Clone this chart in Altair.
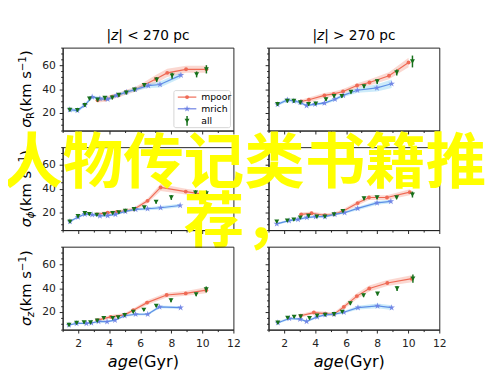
import altair as alt
import pandas as pd

# ---------------- data ----------------
# sigma_R, |z| < 270 pc
R_low_all_age = [1.46, 1.95, 2.43, 2.73, 3.25, 3.72, 4.2, 4.62, 5.1, 5.63, 6.26, 7.06, 8.05, 9.63, 10.26]
R_low_all_val = [22.5, 22.3, 26.5, 32.0, 31.0, 32.5, 32.8, 35.0, 37.0, 39.5, 43.4, 48.0, 51.3, 52.4, 56.7]
R_low_all_err = [1.2, 1.2, 1.5, 1.5, 1.5, 1.5, 1.5, 1.5, 1.5, 1.5, 1.5, 2.0, 2.5, 2.5, 3.5]
R_low_poor_age = [3.25, 3.74, 4.2, 4.62, 5.1, 5.63, 6.26, 7.0, 7.74, 8.95, 10.26]
R_low_poor_val = [30.6, 31.4, 33.6, 35.0, 37.4, 39.6, 43.4, 48.5, 53.7, 56.7, 56.7]
R_low_poor_err = [2.0, 2.0, 2.0, 2.0, 2.0, 2.0, 2.5, 3.5, 3.5, 3.0, 3.0]
R_low_rich_age = [1.46, 1.95, 2.43, 2.9, 3.4, 3.9, 4.47, 5.1, 5.67, 6.52, 7.27, 8.62]
R_low_rich_val = [22.7, 21.9, 26.5, 33.3, 32.0, 31.4, 34.7, 37.4, 39.6, 42.9, 43.9, 51.8]
R_low_rich_err = [1.5, 1.5, 1.5, 1.5, 1.5, 1.5, 1.5, 1.5, 1.5, 2.0, 2.5, 2.5]

# sigma_R, |z| > 270 pc
R_high_all_age = [1.58, 2.21, 2.63, 3.05, 3.58, 4.04, 4.7, 5.22, 5.72, 6.31, 7.15, 8.0, 9.26, 10.27]
R_high_all_val = [27.3, 30.0, 30.0, 28.7, 27.3, 27.8, 31.4, 34.1, 34.1, 37.6, 42.3, 46.4, 54.0, 63.3]
R_high_all_err = [1.5, 1.5, 1.5, 1.5, 1.2, 1.2, 1.5, 1.5, 1.5, 1.5, 1.5, 2.0, 2.5, 5.0]
R_high_poor_age = [3.1, 3.6, 4.6, 5.2, 5.8, 6.7, 7.5, 8.76, 10.02]
R_high_poor_val = [29.5, 31.0, 34.7, 36.0, 38.0, 43.0, 45.6, 51.3, 62.4]
R_high_poor_err = [1.5, 2.0, 2.0, 2.0, 2.0, 2.0, 2.5, 3.0, 4.0]
R_high_rich_age = [1.58, 2.21, 2.63, 3.05, 3.45, 4.0, 4.6, 5.28, 5.81, 6.72, 7.98, 8.93]
R_high_rich_val = [27.0, 30.9, 30.0, 28.7, 26.0, 27.3, 28.2, 31.4, 34.7, 39.0, 41.0, 44.5]
R_high_rich_err = [1.2, 1.5, 1.5, 1.2, 1.2, 1.2, 1.2, 1.5, 1.5, 2.0, 3.0, 3.5]

# sigma_phi, |z| < 270 pc
phi_low_all_age = [1.47, 1.99, 2.43, 2.72, 3.2, 3.69, 4.22, 4.62, 5.04, 5.6, 6.26, 7.02, 8.0, 9.56, 10.26]
phi_low_all_val = [12.2, 16.7, 19.2, 18.5, 17.8, 18.3, 19.4, 20.0, 21.3, 22.6, 24.2, 28.8, 32.5, 36.7, 36.0]
phi_low_all_err = [1.0, 1.0, 1.0, 1.0, 1.0, 1.0, 1.0, 1.0, 1.0, 1.0, 1.0, 1.5, 2.0, 2.0, 2.5]
phi_low_poor_age = [3.2, 3.9, 4.5, 5.04, 5.6, 6.47, 7.31, 8.93, 10.26]
phi_low_poor_val = [18.3, 19.7, 20.3, 21.3, 22.6, 29.7, 41.0, 37.5, 35.0]
phi_low_poor_err = [1.5, 1.5, 1.5, 1.5, 1.5, 2.0, 3.0, 2.5, 2.5]
phi_low_rich_age = [1.47, 1.99, 2.43, 2.9, 3.4, 3.9, 4.4, 5.04, 5.7, 6.47, 7.31, 8.57]
phi_low_rich_val = [12.2, 16.0, 18.5, 18.0, 17.0, 17.2, 18.3, 20.8, 22.5, 23.0, 23.9, 25.8]
phi_low_rich_err = [1.0, 1.0, 1.0, 1.0, 1.0, 1.0, 1.0, 1.0, 1.0, 1.2, 1.5, 1.5]

# sigma_phi, |z| > 270 pc
phi_high_all_age = [1.53, 2.21, 2.63, 3.05, 3.58, 4.11, 4.63, 5.22, 5.79, 7.15, 7.99, 9.25, 10.27]
phi_high_all_val = [12.2, 13.0, 13.8, 15.6, 16.9, 16.4, 16.4, 18.3, 21.0, 31.7, 32.5, 32.5, 35.0]
phi_high_all_err = [1.0, 1.0, 1.0, 1.0, 1.0, 1.0, 1.0, 1.0, 1.0, 1.5, 1.5, 1.5, 2.5]
phi_high_poor_age = [3.1, 3.77, 4.63, 5.22, 5.79, 6.74, 7.47, 8.63, 10.1]
phi_high_poor_val = [18.3, 19.2, 17.5, 18.3, 21.0, 27.8, 32.5, 32.5, 37.0]
phi_high_poor_err = [1.5, 1.5, 1.5, 1.5, 1.5, 2.0, 2.0, 2.0, 2.5]
phi_high_rich_age = [1.53, 2.32, 2.9, 3.47, 4.04, 4.63, 5.26, 5.9, 6.74, 7.99, 8.88]
phi_high_rich_val = [10.3, 13.0, 14.0, 15.6, 16.4, 16.4, 18.3, 19.7, 23.3, 28.0, 29.2]
phi_high_rich_err = [1.0, 1.0, 1.0, 1.0, 1.0, 1.0, 1.0, 1.0, 1.5, 1.5, 1.5]

# sigma_z, |z| < 270 pc
z_low_all_age = [1.41, 1.9, 2.38, 2.8, 3.23, 3.65, 4.22, 4.58, 5.0, 5.55, 6.23, 7.03, 7.98, 9.6, 10.25]
z_low_all_val = [8.9, 10.6, 11.1, 11.0, 12.5, 14.7, 14.7, 15.3, 17.2, 20.0, 21.7, 25.0, 29.7, 34.7, 38.9]
z_low_all_err = [0.8, 0.8, 0.8, 0.8, 0.8, 0.8, 0.8, 0.8, 0.8, 1.0, 1.0, 1.2, 1.5, 1.5, 2.5]
z_low_poor_age = [3.23, 4.1, 5.0, 5.55, 6.44, 7.7, 8.93, 10.25]
z_low_poor_val = [13.0, 15.8, 17.5, 21.4, 27.8, 34.2, 35.6, 38.3]
z_low_poor_err = [1.5, 1.5, 1.5, 1.5, 2.0, 2.0, 2.0, 2.5]
z_low_rich_age = [1.41, 1.9, 2.53, 2.85, 3.31, 3.86, 4.37, 5.0, 5.7, 6.48, 7.24, 8.6]
z_low_rich_val = [8.9, 10.3, 10.3, 10.6, 11.9, 11.7, 13.0, 16.7, 18.0, 18.0, 24.2, 23.6]
z_low_rich_err = [0.8, 0.8, 0.8, 0.8, 0.8, 0.8, 0.8, 1.0, 1.0, 1.0, 1.2, 1.2]

# sigma_z, |z| > 270 pc
z_high_all_age = [1.6, 2.23, 2.65, 3.07, 3.64, 4.13, 4.65, 5.22, 5.75, 6.27, 7.12, 8.02, 9.28, 10.3]
z_high_all_val = [10.8, 15.0, 15.8, 16.1, 14.7, 16.7, 17.5, 18.0, 20.0, 27.2, 33.9, 35.3, 39.7, 48.0]
z_high_all_err = [1.0, 1.0, 1.0, 1.0, 1.0, 1.0, 1.0, 1.0, 1.0, 1.5, 1.5, 1.5, 2.0, 3.5]
z_high_poor_age = [3.07, 3.92, 4.65, 5.22, 5.85, 6.69, 7.49, 8.65, 10.23]
z_high_poor_val = [16.7, 19.4, 18.5, 18.0, 24.2, 33.3, 39.7, 44.4, 48.0]
z_high_poor_err = [1.5, 1.5, 1.5, 1.5, 2.0, 2.5, 2.5, 2.5, 3.0]
z_high_rich_age = [1.6, 2.34, 3.03, 3.45, 4.13, 4.65, 5.22, 5.85, 6.76, 8.02, 8.93]
z_high_rich_val = [10.8, 14.4, 13.9, 11.9, 15.8, 17.5, 18.0, 19.7, 23.6, 25.0, 23.6]
z_high_rich_err = [1.0, 1.0, 1.0, 1.0, 1.0, 1.0, 1.0, 1.0, 1.5, 2.0, 2.0]

PANEL_KEYS = ["R_low", "R_high", "phi_low", "phi_high", "z_low", "z_high"]
SERIES = ["all", "poor", "rich"]
LEGEND_LABELS = ["mpoor", "mrich", "all"]
COL_TITLES = ["|z| < 270 pc", "|z| > 270 pc"]
ROW_SUBS = ["R", "ϕ", "z"]
X_TITLE = ["age", "(Gyr)"]
OVERLAY = ["人物传记类书籍推", "荐，"]
X_TICKS = list(range(1, 13))
Y_TICKS = list(range(5, 80, 5))

# ---------------- build table ----------------
rows = []
g = globals()
for key in PANEL_KEYS:
    for s in SERIES:
        for a, v, e in zip(g[f"{key}_{s}_age"], g[f"{key}_{s}_val"], g[f"{key}_{s}_err"]):
            rows.append({"panel": key, "series": s, "age": a, "val": v, "lo": v - e, "hi": v + e})
df = pd.DataFrame(rows)
dummy = pd.DataFrame({"d": [0]})

# ---------------- style ----------------
W, H = 175, 85
FONT = "DejaVu Sans"
CJK = "Noto Sans CJK SC"
INK = "#222222"
C_POOR = "#ef6a55"
C_POOR_BAND = "#f6a898"
C_RICH = "#6b7fe3"
C_RICH_LINE = "#5d8fe6"
C_RICH_BAND = "#8fd2f5"
C_ALL = "#16701a"
STAR = ("M0,-1L0.2245,-0.309L0.951,-0.309L0.363,0.118L0.588,0.809L0,0.382"
        "L-0.588,0.809L-0.363,0.118L-0.951,-0.309L-0.2245,-0.309Z")


def xaxis(show):
    return alt.Axis(values=X_TICKS, title=None, grid=False, labels=show,
                    tickSize={"condition": {"test": "datum.value % 2 === 0", "value": 3.5}, "value": 2},
                    labelExpr="datum.value % 2 === 0 ? datum.label : ''",
                    labelOverlap=False, labelFlush=False, labelFont=FONT, labelFontSize=11,
                    labelColor=INK, labelPadding=4.5, domainColor=INK, tickColor=INK)


def yaxis(show):
    return alt.Axis(values=Y_TICKS, title=None, grid=False, labels=show,
                    tickSize={"condition": {"test": "datum.value % 20 === 0", "value": 3.5}, "value": 2},
                    labelExpr="datum.value % 20 === 0 ? datum.label : ''",
                    labelOverlap=False, labelFlush=False, labelFont=FONT, labelFontSize=11,
                    labelColor=INK, labelPadding=4, domainColor=INK, tickColor=INK)


XS = alt.Scale(domain=[1, 12], nice=False, zero=False)
YS = alt.Scale(domain=[5, 75], nice=False, zero=False)


def txt(text, x, y, size, **kw):
    return alt.Chart(dummy).mark_text(text=text, font=kw.pop("font", FONT), fontSize=size, **kw).encode(
        x=alt.value(x), y=alt.value(y))


def panel(i):
    key = PANEL_KEYS[i]
    row, col = divmod(i, 2)
    x = alt.X("age:Q", scale=XS, axis=xaxis(row == 2))
    yv = alt.Y("val:Q", scale=YS, axis=yaxis(col == 0))
    ylo = alt.Y("lo:Q", scale=YS, axis=yaxis(col == 0))
    base = alt.Chart(df[df.panel == key])
    poor = base.transform_filter("datum.series == 'poor'")
    rich = base.transform_filter("datum.series == 'rich'")
    al = base.transform_filter("datum.series == 'all'")
    layers = [
        poor.mark_area(color=C_POOR_BAND, opacity=0.45).encode(x=x, y=ylo, y2="hi:Q"),
        poor.mark_line(color=C_POOR, strokeWidth=1.2).encode(x=x, y=yv),
        poor.mark_point(shape="circle", filled=True, color=C_POOR, size=16, opacity=1).encode(x=x, y=yv),
        rich.mark_area(color=C_RICH_BAND, opacity=0.45).encode(x=x, y=ylo, y2="hi:Q"),
        rich.mark_line(color=C_RICH_LINE, strokeWidth=1.2).encode(x=x, y=yv),
        rich.mark_point(shape=STAR, filled=True, color=C_RICH, size=50, opacity=0.9).encode(x=x, y=yv),
        al.mark_rule(color=C_ALL, strokeWidth=1.5).encode(x=x, y=ylo, y2="hi:Q"),
        al.mark_point(shape="triangle-down", filled=True, color=C_ALL, size=26, opacity=1).encode(x=x, y=yv),
    ]
    # column title
    if row == 0:
        t = COL_TITLES[col]
        parts = [(t[0], 4.7, "normal"), (t[1], 7.35, "italic"), (t[2:], 73.1, "normal")]
        L = sum(p[1] for p in parts)
        off = -L / 2
        for s, w, st in parts:
            layers.append(txt(s, W / 2, -8, 14, fontStyle=st, align="left", baseline="alphabetic", dx=off, color="black"))
            off += w
    # y title
    if col == 0:
        sub = ROW_SUBS[row]
        subw = {"R": 7.3, "ϕ": 6.9, "z": 5.5}[sub]
        parts = [("σ", 9.0, 15, "italic", 0), (sub, subw, 10.5, "normal" if sub == "R" else "italic", 3),
                 ("(km s", 41.7, 15, "normal", 0), ("−1", 15.5, 10.5, "normal", -6), (")", 5.85, 15, "normal", 0)]
        L = sum(p[1] for p in parts)
        off = -L / 2
        for s, w, fs, st, dy in parts:
            layers.append(txt(s, -32, H / 2, fs, fontStyle=st, angle=270, align="left",
                              baseline="alphabetic", dx=off, dy=dy, color="black"))
            off += w
    # x title
    if row == 2:
        layers.append(txt(X_TITLE[0], 77, H + 38, 16.5, fontStyle="italic", align="right", baseline="alphabetic", color="black"))
        layers.append(txt(X_TITLE[1], 77, H + 38, 16.5, align="left", baseline="alphabetic", color="black"))
    # legend
    if i == 0:
        layers.append(alt.Chart(dummy).mark_rect(fill="white", fillOpacity=0.85, stroke="#cccccc",
                                                 strokeWidth=0.8, cornerRadius=2).encode(
            x=alt.value(114), x2=alt.value(172), y=alt.value(44), y2=alt.value(82)))
        ys = [50.7, 62.7, 75.0]
        layers.append(alt.Chart(dummy).mark_rule(color=C_POOR, strokeWidth=1.2).encode(
            x=alt.value(118), x2=alt.value(137), y=alt.value(ys[0])))
        layers.append(alt.Chart(dummy).mark_point(shape="circle", filled=True, color=C_POOR, size=16, opacity=1).encode(
            x=alt.value(127.5), y=alt.value(ys[0])))
        layers.append(alt.Chart(dummy).mark_rule(color=C_RICH, strokeWidth=1.2).encode(
            x=alt.value(118), x2=alt.value(137), y=alt.value(ys[1])))
        layers.append(alt.Chart(dummy).mark_point(shape=STAR, filled=True, color=C_RICH, size=50, opacity=0.9).encode(
            x=alt.value(127.5), y=alt.value(ys[1])))
        layers.append(alt.Chart(dummy).mark_rule(color=C_ALL, strokeWidth=1.5).encode(
            x=alt.value(127.5), y=alt.value(ys[2] - 5), y2=alt.value(ys[2] + 5)))
        layers.append(alt.Chart(dummy).mark_point(shape="triangle-down", filled=True, color=C_ALL, size=26, opacity=1).encode(
            x=alt.value(127.5), y=alt.value(ys[2])))
        for lab, yy in zip(LEGEND_LABELS, ys):
            layers.append(txt(lab, 142, yy + 3.3, 9.5, align="left", baseline="alphabetic", color="black"))
    # yellow overlay (drawn from the middle-right panel so it sits above the panels before it)
    if i == 3:
        for line, yy in zip(OVERLAY, [37, 97]):
            layers.append(txt(line, -25, yy, 62, font=CJK, fontWeight="bold", align="center",
                              baseline="alphabetic", color="#ffff00"))
    return alt.layer(*layers).properties(width=W, height=H)


chart = alt.concat(*[panel(i) for i in range(6)], columns=2,
                   spacing={"row": 17, "column": 36}, bounds="flush").properties(
    padding={"left": -7, "top": 16, "right": 5, "bottom": 5}, background="white"
).configure_view(stroke=INK, strokeWidth=1)

chart.save("out.html", embed_options={"renderer": "svg", "actions": False})
